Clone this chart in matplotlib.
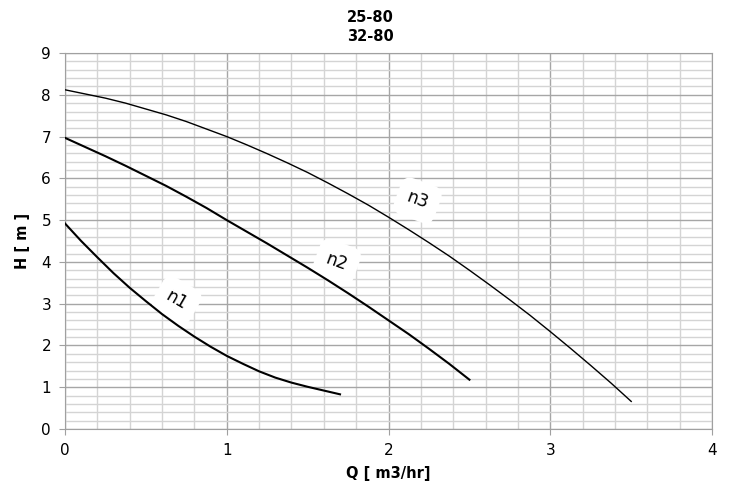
import matplotlib
matplotlib.use("Agg")
import matplotlib.pyplot as plt
from matplotlib.ticker import MultipleLocator

# ── Pump curves ───────────────────────────────────────────────────────────────
q_n1 = [0.0, 0.1, 0.2, 0.3, 0.4, 0.5, 0.6, 0.7, 0.8, 0.9,
        1.0, 1.1, 1.2, 1.3, 1.4, 1.5, 1.6, 1.7]
h_n1 = [4.92, 4.50, 4.11, 3.73, 3.38, 3.06, 2.75, 2.47, 2.21, 1.97,
        1.75, 1.56, 1.38, 1.23, 1.11, 1.01, 0.92, 0.83]

q_n2 = [0.0, 0.125, 0.25, 0.375, 0.5, 0.625, 0.75, 0.875, 1.0, 1.125, 1.25,
        1.375, 1.5, 1.625, 1.75, 1.875, 2.0, 2.125, 2.25, 2.375, 2.5]
h_n2 = [6.97, 6.75, 6.53, 6.30, 6.06, 5.82, 5.56, 5.29, 5.00, 4.72, 4.44,
        4.15, 3.86, 3.56, 3.25, 2.93, 2.60, 2.27, 1.92, 1.56, 1.18]

q_n3 = [0.0, 0.125, 0.25, 0.375, 0.5, 0.625, 0.75, 0.875, 1.0, 1.125, 1.25,
        1.375, 1.5, 1.625, 1.75, 1.875, 2.0, 2.125, 2.25, 2.375, 2.5,
        2.625, 2.75, 2.875, 3.0, 3.125, 3.25, 3.375, 3.5]
h_n3 = [8.12, 8.02, 7.92, 7.80, 7.66, 7.52, 7.36, 7.18, 7.00, 6.80, 6.59,
        6.37, 6.14, 5.89, 5.63, 5.36, 5.07, 4.77, 4.46, 4.14, 3.80,
        3.45, 3.09, 2.72, 2.33, 1.93, 1.52, 1.10, 0.66]

labels = ["n1", "n2", "n3"]
label_pos = [(0.69, 3.08), (1.68, 4.0), (2.18, 5.47)]
label_rot = [-30, -20, -20]

fig = plt.figure(figsize=(7.41, 4.91), dpi=100)
ax = fig.add_axes([0.0877, 0.1263, 0.8733, 0.7657])

ax.plot(q_n1, h_n1, color="black", lw=1.5, zorder=3)
ax.plot(q_n2, h_n2, color="black", lw=1.5, zorder=3)
ax.plot(q_n3, h_n3, color="black", lw=1.0, zorder=3)

# labels sit on white patches, under the curves
for txt, (lx, ly), rot in zip(labels, label_pos, label_rot):
    ax.text(lx, ly, txt, fontsize=12.5, rotation=rot, ha="center", va="center",
            zorder=2, bbox=dict(boxstyle="round,pad=0.6", fc="white", ec="none"))

ax.set_xlim(0, 4)
ax.set_ylim(0, 9)
ax.xaxis.set_major_locator(MultipleLocator(1))
ax.xaxis.set_minor_locator(MultipleLocator(0.2))
ax.yaxis.set_major_locator(MultipleLocator(1))
ax.yaxis.set_minor_locator(MultipleLocator(0.2))
ax.grid(True, which="major", color="#a6a6a6", lw=1.0)
ax.grid(True, which="minor", color="#d4d4d4", lw=1.0)
ax.set_axisbelow(True)
ax.tick_params(which="minor", length=0)
ax.tick_params(which="major", length=4, color="#a0a0a0", labelsize=11, pad=6)
for s in ax.spines.values():
    s.set_color("#a0a0a0")

ax.set_xlabel("Q [ m3/hr]", fontsize=10.5, fontweight="bold", labelpad=6)
ax.set_ylabel("H [ m ]", fontsize=10.5, fontweight="bold", labelpad=8)

fig.text(0.5, 0.965, "25-80", ha="center", va="center", fontsize=10.5, fontweight="bold")
fig.text(0.5, 0.925, "32-80", ha="center", va="center", fontsize=10.5, fontweight="bold")

fig.savefig("out.png", dpi=100)
